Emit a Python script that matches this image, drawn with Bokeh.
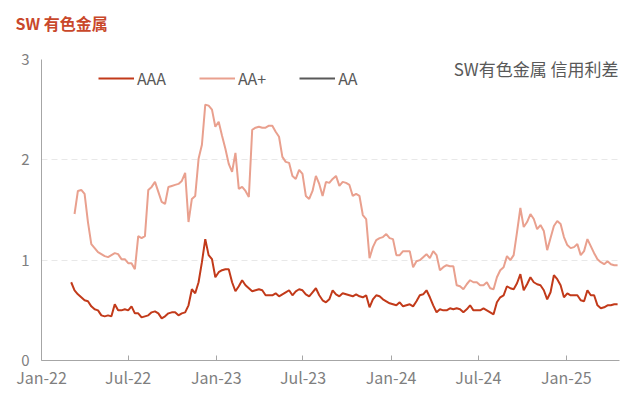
import numpy as np
import pandas as pd
from bokeh.plotting import figure
from bokeh.models import (Legend, LegendItem, Label, FixedTicker, DatetimeTickFormatter,
                          Range1d, ColumnDataSource, Title)
from bokeh.embed import file_html
from bokeh.resources import INLINE

FONT = "Noto Sans CJK SC"
nan = float("nan")

# weekly observations starting this date
first_week = "2022-03-04"

aaa = [0.78, 0.70, 0.66, 0.63, 0.60, 0.59, 0.54, 0.51, 0.50, 0.45,
       0.44, 0.45, 0.44, 0.56, 0.50, 0.50, 0.51, 0.50, 0.54, 0.47,
       0.47, 0.43, 0.44, 0.45, 0.48, 0.49, 0.47, 0.42, 0.44, 0.47,
       0.48, 0.48, 0.45, 0.47, 0.48, 0.55, 0.71, 0.67, 0.78, 0.98,
       1.21, 1.05, 1.01, 0.83, 0.88, 0.90, 0.91, 0.91, 0.78, 0.69,
       0.74, 0.80, 0.75, 0.72, 0.69, 0.70, 0.71, 0.70, 0.65, 0.65,
       0.65, 0.67, 0.64, 0.66, 0.68, 0.70, 0.65, 0.69, 0.71, 0.70,
       0.66, 0.64, 0.68, 0.72, 0.65, 0.60, 0.58, 0.61, 0.70, 0.66,
       0.64, 0.67, 0.66, 0.65, 0.64, 0.66, 0.64, 0.63, 0.65, 0.53,
       0.61, 0.65, 0.64, 0.61, 0.59, 0.57, 0.56, 0.55, 0.58, 0.54,
       0.55, 0.56, 0.54, 0.59, 0.65, 0.66, 0.70, 0.63, 0.55, 0.48,
       0.51, 0.50, 0.50, 0.52, 0.51, 0.52, 0.51, 0.48, 0.51, 0.55,
       0.50, 0.50, 0.50, 0.52, 0.50, 0.48, 0.46, 0.58, 0.63, 0.65,
       0.74, 0.72, 0.71, 0.77, 0.86, 0.70, 0.76, 0.83, 0.78, 0.76,
       0.75, 0.70, 0.61, 0.68, 0.85, 0.81, 0.75, 0.63, 0.67, 0.65,
       0.65, 0.65, 0.60, 0.59, 0.70, 0.65, 0.65, 0.55, 0.52, 0.53,
       0.55, 0.55, 0.56, 0.56]

aa_plus = [nan, 1.46, 1.69, 1.70, 1.66, 1.38, 1.16, 1.12, 1.08, 1.06,
           1.04, 1.03, 1.05, 1.07, 1.06, 1.01, 1.01, 0.97, 0.97, 0.91,
           1.24, 1.22, 1.24, 1.70, 1.73, 1.78, 1.68, 1.58, 1.56, 1.73,
           1.74, 1.75, 1.76, 1.79, 1.87, 1.38, 1.61, 1.64, 2.01, 2.15,
           2.55, 2.54, 2.50, 2.33, 2.38, 2.24, 2.11, 1.96, 1.88, 2.07,
           1.71, 1.73, 1.69, 1.63, 2.30, 2.32, 2.33, 2.32, 2.32, 2.34,
           2.34, 2.28, 2.23, 2.03, 1.98, 1.97, 1.84, 1.81, 1.90, 1.86,
           1.64, 1.61, 1.69, 1.84, 1.76, 1.64, 1.78, 1.77, 1.81, 1.84,
           1.74, 1.78, 1.77, 1.75, 1.64, 1.66, 1.64, 1.45, 1.41, 1.02,
           1.13, 1.20, 1.22, 1.23, 1.26, 1.22, 1.21, 1.05, 1.05, 1.09,
           1.09, 1.09, 0.93, 0.99, 1.00, 1.03, 1.06, 1.02, 1.09, 1.05,
           0.90, 0.93, 0.95, 0.94, 0.94, 0.75, 0.74, 0.71, 0.76, 0.80,
           0.78, 0.78, 0.75, 0.75, 0.78, 0.72, 0.71, 0.83, 0.90, 0.93,
           1.04, 1.00, 1.05, 1.28, 1.52, 1.33, 1.38, 1.46, 1.41, 1.31,
           1.35, 1.29, 1.10, 1.22, 1.34, 1.39, 1.36, 1.23, 1.15, 1.12,
           1.13, 1.16, 1.05, 1.09, 1.21, 1.14, 1.07, 1.01, 0.98, 0.96,
           0.99, 0.96, 0.95, 0.95]

aa = [nan]  # no AA observations drawn (legend entry only)

tick_dates = ["2022-01-01", "2022-07-01", "2023-01-01", "2023-07-01",
              "2024-01-01", "2024-07-01", "2025-01-01"]
y_ticks = [0, 1, 2, 3]

title_text = "SW 有色金属"
note_text = "SW有色金属 信用利差"
series_names = ["AAA", "AA+", "AA"]

dates = pd.date_range(first_week, periods=len(aaa), freq="7D")
src_aaa = ColumnDataSource(dict(x=dates, y=aaa))
src_aap = ColumnDataSource(dict(x=dates, y=aa_plus))
src_aa = ColumnDataSource(dict(x=dates[:len(aa)], y=aa))

p = figure(width=636, height=392, output_backend="svg", toolbar_location=None,
           x_axis_type="datetime",
           x_range=Range1d(pd.Timestamp("2022-01-01"), pd.Timestamp("2025-04-22")),
           y_range=Range1d(0, 3),
           min_border_left=41, min_border_right=17, min_border_top=59, min_border_bottom=32)

p.title.text = ""
# spacer between frame and title (closest to the frame)
p.add_layout(Title(text=" ", text_font_size="8px", standoff=6), "above")
p.add_layout(Title(text=title_text, text_font=FONT, text_font_size="16px",
                   text_font_style="bold", text_color="#C9482B", align="left",
                   vertical_align="top", offset=-26, standoff=12), "above")

p.outline_line_color = None
p.background_fill_color = "white"
p.border_fill_color = "white"

r_aaa = p.line("x", "y", source=src_aaa, line_color="#C23A1A", line_width=2)
r_aap = p.line("x", "y", source=src_aap, line_color="#E9A08E", line_width=2)
r_aa = p.line("x", "y", source=src_aa, line_color="#595959", line_width=2)

# grid
p.xgrid.grid_line_color = None
p.ygrid.grid_line_color = "#E8E8E8"
p.ygrid.grid_line_dash = "6 4"
p.ygrid.grid_line_width = 1

# axes
xa = p.xaxis[0]
xa.ticker = FixedTicker(ticks=[pd.Timestamp(d).value // 10**6 for d in tick_dates])
xa.formatter = DatetimeTickFormatter(days="%b-%y", months="%b-%y", years="%b-%y")
xa.axis_line_color = "#A6A6A6"
xa.major_tick_line_color = "#A6A6A6"
xa.major_tick_in = 5
xa.major_tick_out = 0
xa.minor_tick_line_color = None
xa.major_label_text_font = FONT
xa.major_label_text_font_size = "16px"
xa.major_label_text_color = "#7F7F7F"
xa.major_label_standoff = 4

ya = p.yaxis[0]
ya.ticker = FixedTicker(ticks=y_ticks)
ya.axis_line_color = "#A6A6A6"
ya.major_tick_line_color = None
ya.major_tick_in = 0
ya.major_tick_out = 0
ya.minor_tick_line_color = None
ya.major_label_text_font = FONT
ya.major_label_text_font_size = "15px"
ya.major_label_text_color = "#7F7F7F"
ya.major_label_standoff = 12

legend = Legend(items=[LegendItem(label=series_names[0], renderers=[r_aaa]),
                       LegendItem(label=series_names[1], renderers=[r_aap]),
                       LegendItem(label=series_names[2], renderers=[r_aa])],
                orientation="horizontal", location=(57, 270),
                glyph_width=36, glyph_height=16, label_height=16, label_standoff=3,
                spacing=33, padding=0, margin=0,
                border_line_color=None, background_fill_alpha=0,
                label_text_font=FONT, label_text_font_size="16px",
                label_text_color="#595959")
p.add_layout(legend)

note = Label(x=577, y=292, x_units="screen", y_units="screen", text=note_text,
             text_align="right", text_baseline="middle", text_font=FONT,
             text_font_size="17px", text_color="#595959")
p.add_layout(note)

open("out.html", "w").write(file_html(p, INLINE))
